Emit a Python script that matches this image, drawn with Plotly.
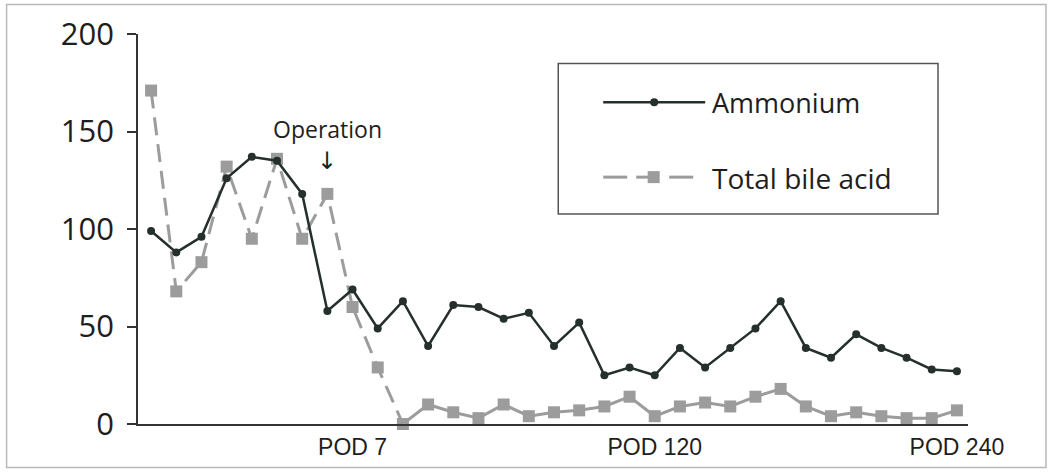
import plotly.graph_objects as go

# ---- data ----
sample_index = list(range(33))
ammonium = [99, 88, 96, 126, 137, 135, 118, 58, 69, 49, 63, 40, 61, 60, 54, 57, 40,
            52, 25, 29, 25, 39, 29, 39, 49, 63, 39, 34, 46, 39, 34, 28, 27]
total_bile_acid = [171, 68, 83, 132, 95, 136, 95, 118, 60, 29, 0, 10, 6, 3, 10, 4, 6,
                   7, 9, 14, 4, 9, 11, 9, 14, 18, 9, 4, 6, 4, 3, 3, 7]
tick_index = [8, 20, 32]
tick_labels = ["POD 7", "POD 120", "POD 240"]
y_ticks = [0, 50, 100, 150, 200]
operation_index = 7

DARK = "#25302b"
GRAY = "#9c9c9c"
AX = "#333333"
split = 10  # long early segments show dashes, short later ones read as solid

fig = go.Figure()
fig.add_trace(go.Scatter(
    x=sample_index[:split + 1], y=total_bile_acid[:split + 1], mode="lines",
    line=dict(color=GRAY, width=3, dash="18px,9px"), name="Total bile acid",
    legendgroup="tba", showlegend=False, cliponaxis=False, hoverinfo="skip"))
fig.add_trace(go.Scatter(
    x=sample_index[split:], y=total_bile_acid[split:], mode="lines",
    line=dict(color=GRAY, width=3), name="Total bile acid",
    legendgroup="tba", showlegend=False, cliponaxis=False, hoverinfo="skip"))
fig.add_trace(go.Scatter(
    x=sample_index, y=total_bile_acid, mode="markers",
    marker=dict(symbol="square", size=12, color=GRAY), name="Total bile acid",
    legendgroup="tba", showlegend=False, cliponaxis=False))
fig.add_trace(go.Scatter(
    x=sample_index, y=ammonium, mode="lines+markers",
    line=dict(color=DARK, width=2.5),
    marker=dict(symbol="circle", size=8, color=DARK), name="Ammonium",
    showlegend=False, cliponaxis=False))

# plot area in screen pixels
L, R, T, B = 137.5, 968.0, 33.5, 424.5
W, H = R - L, B - T


def px(x):
    return (x - L) / W


def py(y):
    return (B - y) / H


shapes = []
# outer frame of the figure
shapes.append(dict(type="rect", xref="paper", yref="paper",
                   x0=px(6), x1=px(1046), y0=py(468), y1=py(4),
                   line=dict(color="#b8b8b8", width=1.5), layer="below"))
# legend box
shapes.append(dict(type="rect", xref="paper", yref="paper",
                   x0=px(558), x1=px(938), y0=py(214), y1=py(63),
                   line=dict(color="#555555", width=1.5), fillcolor="white"))
# legend: ammonium sample
ya = py(102)
shapes.append(dict(type="line", xref="paper", yref="paper",
                   x0=px(603), x1=px(705), y0=ya, y1=ya,
                   line=dict(color=DARK, width=2.5)))
shapes.append(dict(type="circle", xref="paper", yref="paper",
                   xsizemode="pixel", ysizemode="pixel",
                   xanchor=px(654), yanchor=ya, x0=-4, x1=4, y0=-4, y1=4,
                   fillcolor=DARK, line=dict(color=DARK, width=0)))
# legend: total bile acid sample
yb = py(177)
for a, b in [(603, 627), (636, 650), (669, 693)]:
    shapes.append(dict(type="line", xref="paper", yref="paper",
                       x0=px(a), x1=px(b), y0=yb, y1=yb,
                       line=dict(color=GRAY, width=3)))
shapes.append(dict(type="rect", xref="paper", yref="paper",
                   xsizemode="pixel", ysizemode="pixel",
                   xanchor=px(653.5), yanchor=yb, x0=-6, x1=6, y0=-6, y1=6,
                   fillcolor=GRAY, line=dict(color=GRAY, width=0)))

annotations = [
    dict(xref="paper", yref="paper", x=px(710), y=py(102), xanchor="left",
         yanchor="middle", text="Ammonium", showarrow=False,
         font=dict(family="Open Sans", size=27, color="#1e1e1e")),
    dict(xref="paper", yref="paper", x=px(710), y=py(178), xanchor="left",
         yanchor="middle", text="Total bile acid", showarrow=False,
         font=dict(family="Open Sans", size=28, color="#1e1e1e")),
    dict(xref="x", yref="paper", x=operation_index, y=py(129), xanchor="center",
         yanchor="middle", text="Operation", showarrow=False,
         font=dict(family="Open Sans", size=23, color="#1e1e1e")),
    dict(xref="x", yref="paper", x=operation_index, y=py(145), xanchor="center",
         yanchor="top", text="↓", showarrow=False,
         font=dict(family="DejaVu Sans", size=24, color="#1e1e1e")),
]

fig.update_layout(
    width=1051, height=472,
    margin=dict(l=L, r=1051 - R, t=T, b=472 - B, pad=0),
    paper_bgcolor="white", plot_bgcolor="white",
    showlegend=False,
    shapes=shapes, annotations=annotations,
    xaxis=dict(range=[-0.52, 32.44], showgrid=False, zeroline=False,
               showline=True, linecolor=AX, linewidth=1.5, automargin=False,
               tickmode="array", tickvals=tick_index, ticktext=tick_labels,
               ticks="outside", ticklen=2, tickcolor="rgba(0,0,0,0)",
               tickfont=dict(family="Liberation Sans", size=23, color="#1e1e1e")),
    yaxis=dict(range=[0, 200], showgrid=False, zeroline=False,
               showline=True, linecolor=AX, linewidth=1.5, automargin=False,
               tickmode="array", tickvals=y_ticks,
               ticks="outside", ticklen=9, tickwidth=1.5, tickcolor=AX,
               ticklabelstandoff=7,
               tickfont=dict(family="Open Sans", size=31, color="#1e1e1e")),
)

fig.write_html(
    "out.html",
    config={"displayModeBar": False},
    post_script="document.body.style.margin='0';"
                "document.body.style.overflow='hidden';",
)
